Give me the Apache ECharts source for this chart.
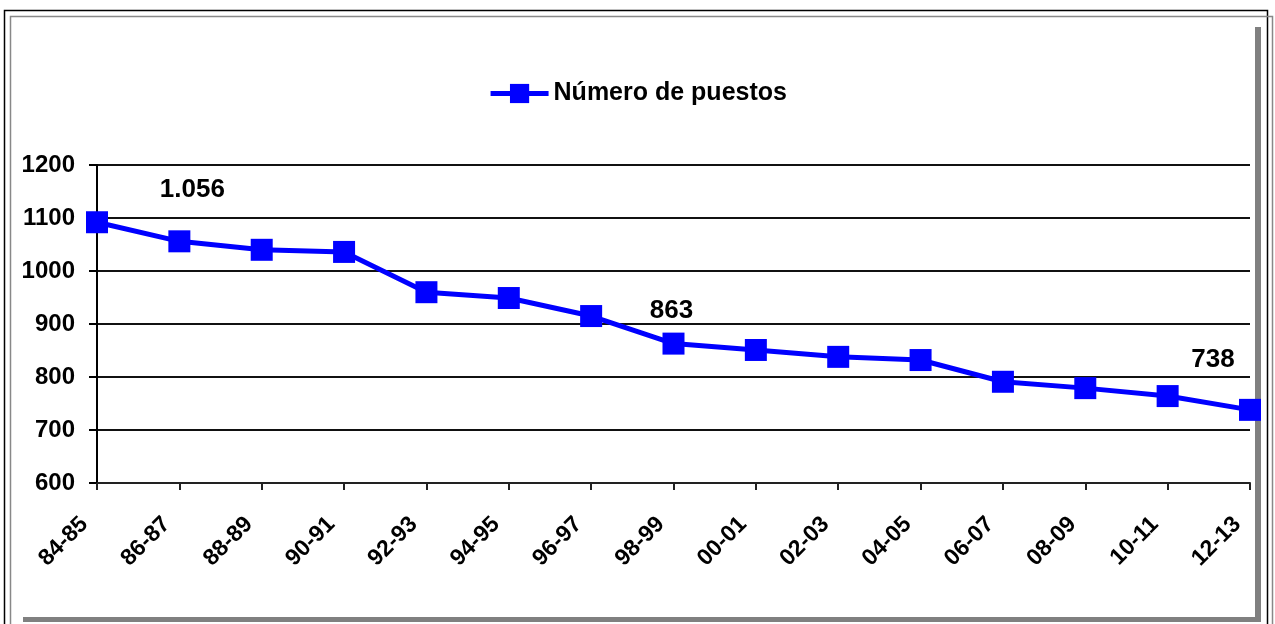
<!DOCTYPE html>
<html>
<head>
<meta charset="utf-8">
<title>Número de puestos</title>
<script src="https://cdn.jsdelivr.net/npm/echarts@6/dist/echarts.min.js"></script>
<style>
  html, body { margin: 0; padding: 0; background: #fff; }
  #chart { width: 1275px; height: 624px; }
</style>
</head>
<body>
<div id="chart"></div>
<script>
// cursos académicos
const cursos = ["84-85", "86-87", "88-89", "90-91", "92-93", "94-95", "96-97", "98-99",
  "00-01", "02-03", "04-05", "06-07", "08-09", "10-11", "12-13"];
// número de puestos
const puestos = [1092, 1056, 1040, 1036, 960, 949, 915, 863, 851, 838, 832, 791, 779, 764, 738];
// etiquetas que se muestran sobre algunos puntos
const etiquetas = { 1: "1.056", 7: "863", 14: "738" };
const etiquetaOffset = { 1: [13, -22], 7: [-2, -4], 14: [-37, -21] };

const font = "'Liberation Sans', Arial, sans-serif";

const seriesData = puestos.map((v, i) => {
  if (!etiquetas[i]) return v;
  return {
    value: v,
    label: {
      show: true,
      position: "top",
      distance: 5,
      offset: etiquetaOffset[i],
      formatter: etiquetas[i],
      fontFamily: font,
      fontWeight: "bold",
      fontSize: 26,
      color: "#000"
    }
  };
});

const chart = echarts.init(document.getElementById("chart"));

const option = {
  animation: false,
  backgroundColor: "#fff",
  legend: {
    top: 76,
    left: "center",
    itemWidth: 58,
    itemHeight: 24,
    itemGap: 4,
    lineStyle: { width: 5 },
    textStyle: {
      fontFamily: font,
      fontWeight: "bold",
      fontSize: 25,
      color: "#000"
    },
    data: ["Número de puestos"]
  },
  grid: {
    left: 97,
    right: 25,
    top: 165,
    bottom: 141
  },
  xAxis: {
    type: "category",
    data: cursos,
    boundaryGap: false,
    axisLine: { lineStyle: { color: "#222", width: 2 } },
    axisTick: { show: true, length: 7, lineStyle: { color: "#222", width: 2 } },
    axisLabel: {
      rotate: 45,
      margin: 25,
      padding: [0, 18, 0, 0],
      interval: 0,
      fontFamily: font,
      fontWeight: "bold",
      fontSize: 23,
      color: "#000"
    },
    splitLine: { show: false }
  },
  yAxis: {
    type: "value",
    min: 600,
    max: 1200,
    interval: 100,
    axisLine: { show: true, lineStyle: { color: "#000", width: 2 } },
    axisTick: { show: true, length: 8, lineStyle: { color: "#000", width: 2 } },
    axisLabel: {
      margin: 22,
      formatter: v => String(v),
      fontFamily: font,
      fontWeight: "bold",
      fontSize: 24,
      color: "#000"
    },
    splitLine: { show: true, lineStyle: { color: "#111", width: 2 } }
  },
  series: [
    {
      name: "Número de puestos",
      type: "line",
      data: seriesData,
      symbol: "rect",
      symbolSize: 22,
      itemStyle: { color: "#0000ff" },
      lineStyle: { color: "#0000ff", width: 5 },
      z: 5
    }
  ],
  graphic: [
    {
      type: "rect",
      shape: { x: 4.5, y: 10.5, width: 1263, height: 640 },
      style: { fill: null, stroke: "#000", lineWidth: 1.5 },
      silent: true
    },
    {
      type: "rect",
      shape: { x: 10.5, y: 16.5, width: 1262, height: 640 },
      style: { fill: null, stroke: "#888", lineWidth: 1.5 },
      silent: true
    },
    {
      type: "rect",
      shape: { x: 1255, y: 27, width: 6, height: 595 },
      style: { fill: "#808080" },
      silent: true
    },
    {
      type: "rect",
      shape: { x: 23, y: 617, width: 1238, height: 5 },
      style: { fill: "#808080" },
      silent: true
    }
  ]
};

chart.setOption(option);
</script>
</body>
</html>
